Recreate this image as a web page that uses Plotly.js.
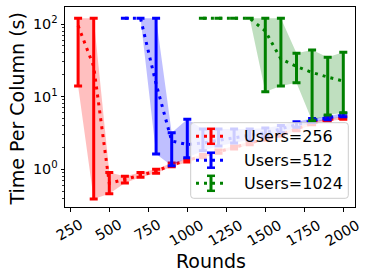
<!DOCTYPE html>
<html>
<head>
<meta charset="utf-8">
<script src="https://cdn.plot.ly/plotly-3.0.1.min.js"></script>
<style>html,body{margin:0;padding:0;background:#fff;}#chart{width:374px;height:280px;}</style>
</head>
<body>
<div id="chart"></div>
<script>
// ---- data ----
var rounds256 = [300,400,500,600,700,800,900,1000,1100,1200,1300,1400,1500,1600,1700,1800,1900,2000];
var mean256   = [95,26,0.64,0.73,0.84,0.94,1.15,1.33,1.52,1.75,2.0,2.3,2.65,3.0,3.6,4.3,4.8,5.1];
var lo256     = [14,0.39,0.46,0.65,0.78,0.88,1.08,1.26,1.44,1.66,1.9,2.18,2.52,2.85,3.4,4.1,4.6,4.9];
var hi256     = [120,120,0.9,0.8,0.9,1.0,1.22,1.39,1.6,1.84,2.1,2.42,2.78,3.15,3.8,4.5,5.0,5.3];

var rounds512 = [600,700,800,900,1000,1100,1200,1300,1400,1500,1600,1700,1800,1900,2000];
var mean512   = [120,120,15,2.45,2.19,2.3,2.5,2.7,2.9,3.2,3.6,4.1,4.7,5.1,5.6];
var lo512     = [120,120,1.62,1.12,1.44,1.8,2.1,2.3,2.5,2.8,3.2,3.8,4.4,4.8,5.3];
var hi512     = [120,120,120,3.19,4.88,3.6,3.6,3.6,3.6,3.7,4.0,4.5,5.0,5.4,5.9];

var rounds1024 = [1100,1200,1300,1400,1500,1600,1700,1800,1900,2000];
var mean1024   = [120,120,120,120,80,33,26,21.5,18.6,16.4];
var lo1024     = [120,120,120,120,11.7,14,15.5,4.67,5.58,6.0];
var hi1024     = [120,120,120,120,120,120,39.5,43.9,34.8,40.8];

var labels = ['Users=256','Users=512','Users=1024'];
var xTicks = [250,500,750,1000,1250,1500,1750,2000];
var yTicks = [1,10,100];
var yTickText = ['10<sup>0</sup>','10<sup>1</sup>','10<sup>2</sup>'];
var yMinor = [0.3,0.4,0.5,0.6,0.7,0.8,0.9,2,3,4,5,6,7,8,9,20,30,40,50,60,70,80,90];

// ---- styling ----
var FONT = 'DejaVu Sans, sans-serif';
var colors = ['#ff0000','#0000ff','#008000'];
var fills = ['rgba(255,0,0,0.25)','rgba(0,0,255,0.25)','rgba(0,128,0,0.25)'];
var DASH = '3px,5px';

var series = [
  {x: rounds256, m: mean256, lo: lo256, hi: hi256},
  {x: rounds512, m: mean512, lo: lo512, hi: hi512},
  {x: rounds1024, m: mean1024, lo: lo1024, hi: hi1024}
];

var traces = [];
series.forEach(function(s, i){
  traces.push({x: s.x, y: s.hi, mode: 'lines', line: {width: 0, color: fills[i]}, showlegend: false, hoverinfo: 'skip'});
  traces.push({x: s.x, y: s.lo, mode: 'lines', line: {width: 0, color: fills[i]}, fill: 'tonexty', fillcolor: fills[i], showlegend: false, hoverinfo: 'skip'});
  traces.push({
    x: s.x, y: s.m, mode: 'lines', name: labels[i], showlegend: false,
    line: {color: colors[i], width: 3, dash: DASH},
    error_y: {type: 'data', symmetric: false,
      array: s.hi.map(function(v, k){ return v - s.m[k]; }),
      arrayminus: s.m.map(function(v, k){ return v - s.lo[k]; }),
      color: colors[i], thickness: 3, width: 4}
  });
});

// ---- geometry helpers (pixel -> paper) ----
var L = 65, T = 7, W = 290, H = 200;
function px(x){ return (x - L) / W; }
function py(y){ return (T + H - y) / H; }

var shapes = [];
var annotations = [];

// legend box with rounded corners
(function(){
  var x0 = 190.7, x1 = 348.3, y0 = 122.7, y1 = 198.3, r = 3;
  var p = 'M' + px(x0 + r) + ',' + py(y0) +
    ' L' + px(x1 - r) + ',' + py(y0) +
    ' Q' + px(x1) + ',' + py(y0) + ' ' + px(x1) + ',' + py(y0 + r) +
    ' L' + px(x1) + ',' + py(y1 - r) +
    ' Q' + px(x1) + ',' + py(y1) + ' ' + px(x1 - r) + ',' + py(y1) +
    ' L' + px(x0 + r) + ',' + py(y1) +
    ' Q' + px(x0) + ',' + py(y1) + ' ' + px(x0) + ',' + py(y1 - r) +
    ' L' + px(x0) + ',' + py(y0 + r) +
    ' Q' + px(x0) + ',' + py(y0) + ' ' + px(x0 + r) + ',' + py(y0) + ' Z';
  shapes.push({type: 'path', path: p, xref: 'paper', yref: 'paper',
    fillcolor: 'rgba(255,255,255,0.8)', line: {color: '#cccccc', width: 1}});
})();

var rowsY = [136.3, 160.2, 183.3];
labels.forEach(function(lab, i){
  var yy = rowsY[i];
  shapes.push({type: 'line', xref: 'paper', yref: 'paper', x0: px(196), x1: px(223), y0: py(yy), y1: py(yy),
    line: {color: colors[i], width: 3, dash: DASH}});
  shapes.push({type: 'line', xref: 'paper', yref: 'paper', x0: px(211), x1: px(211), y0: py(yy - 7.5), y1: py(yy + 7.5),
    line: {color: colors[i], width: 3}});
  shapes.push({type: 'line', xref: 'paper', yref: 'paper', x0: px(207), x1: px(215), y0: py(yy - 7.5), y1: py(yy - 7.5),
    line: {color: colors[i], width: 2.5}});
  shapes.push({type: 'line', xref: 'paper', yref: 'paper', x0: px(207), x1: px(215), y0: py(yy + 7.5), y1: py(yy + 7.5),
    line: {color: colors[i], width: 2.5}});
  annotations.push({text: lab, xref: 'paper', yref: 'paper', x: px(241.5), y: py(yy), xanchor: 'left', yanchor: 'middle',
    showarrow: false, font: {family: FONT, size: 16, color: '#000'}});
});

// rotated x tick labels
xTicks.forEach(function(v){
  annotations.push({text: String(v), xref: 'x', yref: 'paper', x: v, y: 0, xanchor: 'center', yanchor: 'top',
    yshift: -7, xshift: -1, textangle: -30, showarrow: false, font: {family: FONT, size: 14.4, color: '#000'}});
});

// axis titles
annotations.push({text: 'Rounds', xref: 'paper', yref: 'paper', x: px(211.2), y: py(260.5), xanchor: 'center', yanchor: 'middle',
  showarrow: false, font: {family: FONT, size: 19, color: '#000'}});
annotations.push({text: 'Time Per Column (s)', xref: 'paper', yref: 'paper', x: px(16.5), y: py(109), xanchor: 'center', yanchor: 'middle',
  textangle: -90, showarrow: false, font: {family: FONT, size: 19, color: '#000'}});

var layout = {
  width: 374, height: 280,
  margin: {l: L, r: 374 - L - W, t: T, b: 280 - T - H, pad: 0},
  paper_bgcolor: '#fff', plot_bgcolor: '#fff',
  showlegend: false,
  font: {family: FONT, size: 14.4, color: '#000'},
  xaxis: {
    range: [216, 2075], tickvals: xTicks, showticklabels: false,
    ticks: 'outside', ticklen: 3.5, tickwidth: 1, tickcolor: '#000',
    showline: true, linecolor: '#000', linewidth: 1, mirror: true,
    showgrid: false, zeroline: false
  },
  yaxis: {
    type: 'log', range: [-0.519, 2.234],
    tickmode: 'array', tickvals: yTicks, ticktext: yTickText,
    ticks: 'outside', ticklen: 3.5, tickwidth: 1, tickcolor: '#000',
    tickfont: {family: FONT, size: 14.4, color: '#000'},
    minor: {tickmode: 'array', tickvals: yMinor, ticks: 'outside', ticklen: 2, tickwidth: 0.8, tickcolor: '#000', showgrid: false},
    showline: true, linecolor: '#000', linewidth: 1, mirror: true,
    showgrid: false, zeroline: false
  },
  shapes: shapes,
  annotations: annotations
};

Plotly.newPlot('chart', traces, layout, {staticPlot: true, displayModeBar: false});
</script>
</body>
</html>
